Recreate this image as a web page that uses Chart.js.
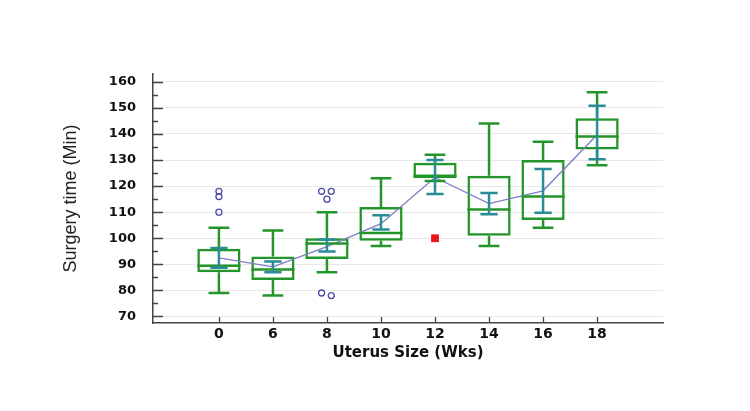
<!DOCTYPE html>
<html>
<head>
<meta charset="utf-8">
<script src="https://cdn.jsdelivr.net/npm/chart.js@4"></script>
<style>
  body { margin: 0; background: #fff; }
</style>
</head>
<body>
<canvas id="chart" width="750" height="411"></canvas>
<script>
// Uterus size groups (weeks)
const sizes = ['0', '6', '8', '10', '12', '14', '16', '18']

// Box plot parts, surgery time in minutes
const whiskerLow = [79, 78, 87, 97, 122, 97, 104, 128]
const q1 = [87, 84, 92, 99, 123, 101, 107, 134]
const median = [89.5, 88, 98, 102, 124, 111, 116, 139]
const q3 = [96, 93, 100, 112, 129, 124, 130, 146]
const whiskerHigh = [104, 103, 110, 123, 132, 144, 137, 156]

// Mean with 95% CI
const mean = [92.5, 89, 96.8, 105.6, 123.3, 113.3, 118.2, 139.7]
const ciLow = [88.7, 87, 94.9, 103.4, 117, 109.2, 109.8, 130.3]
const ciHigh = [96.3, 91.1, 99.5, 108.8, 130, 117.4, 126.6, 150.8]

// Outliers as [group index, value]
const outliers = [[0, 118], [0, 116], [0, 110], [2, 118], [2, 118], [2, 115], [2, 79], [2, 78]]
const farOutliers = [[4, 100]]

const yTicks = [70, 80, 90, 100, 110, 120, 130, 140, 150, 160]

const green = '#23952a'
const teal = '#2a8c98'

// spread outliers that sit on top of each other in the same group
function jitter(list) {
    return list.map(([g, v], k) => {
        const twin = list.findIndex(([g2, v2], j) => j !== k && g2 === g && Math.abs(v2 - v) <= 1)
        if (twin < 0) return { x: g, y: v }
        return { x: g + (k < twin ? -0.1 : 0.08), y: v }
    })
}

const boxParts = {
    id: 'boxParts',
    afterDatasetsDraw(chart) {
        const { ctx, scales: { x, y } } = chart
        const bars = chart.getDatasetMeta(0).data
        ctx.save()
        ctx.lineCap = 'butt'
        sizes.forEach((s, i) => {
            const cx = x.getPixelForValue(i)
            const bw = bars[i].width
            // whiskers
            ctx.strokeStyle = green
            ctx.lineWidth = 2.5
            ctx.beginPath()
            ctx.moveTo(cx, y.getPixelForValue(q3[i]))
            ctx.lineTo(cx, y.getPixelForValue(whiskerHigh[i]))
            ctx.moveTo(cx, y.getPixelForValue(q1[i]))
            ctx.lineTo(cx, y.getPixelForValue(whiskerLow[i]))
            const capW = bw * 0.24
            for (const v of [whiskerHigh[i], whiskerLow[i]]) {
                ctx.moveTo(cx - capW, y.getPixelForValue(v))
                ctx.lineTo(cx + capW, y.getPixelForValue(v))
            }
            // median
            ctx.moveTo(cx - bw / 2, y.getPixelForValue(median[i]))
            ctx.lineTo(cx + bw / 2, y.getPixelForValue(median[i]))
            ctx.stroke()

            // mean CI
            ctx.strokeStyle = teal
            ctx.lineWidth = 2.5
            ctx.beginPath()
            ctx.moveTo(cx, y.getPixelForValue(ciHigh[i]))
            ctx.lineTo(cx, y.getPixelForValue(ciLow[i]))
            const ciW = bw * 0.2
            for (const v of [ciHigh[i], ciLow[i]]) {
                ctx.moveTo(cx - ciW, y.getPixelForValue(v))
                ctx.lineTo(cx + ciW, y.getPixelForValue(v))
            }
            ctx.stroke()
        })
        ctx.restore()
    },
    afterDraw(chart) {
        // tick marks pointing into the plot
        const { ctx, scales: { x, y }, chartArea } = chart
        ctx.save()
        ctx.strokeStyle = '#444'
        ctx.lineWidth = 1.3
        ctx.beginPath()
        for (let v = 70; v <= 160; v += 5) {
            const py = Math.round(y.getPixelForValue(v)) + 0.5
            ctx.moveTo(chartArea.left, py)
            ctx.lineTo(chartArea.left + (v % 10 === 0 ? 10 : 5), py)
        }
        sizes.forEach((s, i) => {
            const px = Math.round(x.getPixelForValue(i)) + 0.5
            ctx.moveTo(px, chartArea.bottom)
            ctx.lineTo(px, chartArea.bottom - 6)
        })
        ctx.stroke()
        ctx.restore()
    }
}

const ctx = document.getElementById('chart')
new Chart(ctx, {
    type: 'bar',
    data: {
        datasets: [
            {
                type: 'bar',
                data: sizes.map((s, i) => ({ x: i, y: [q1[i], q3[i]] })),
                backgroundColor: 'rgba(255,255,255,0)',
                borderColor: green,
                borderWidth: 2.5,
                borderSkipped: false,
                barPercentage: 0.8,
                categoryPercentage: 1,
                order: 3
            },
            {
                type: 'line',
                data: sizes.map((s, i) => ({ x: i, y: mean[i] })),
                borderColor: '#7f7dc4',
                borderWidth: 1.3,
                pointRadius: 0,
                tension: 0,
                order: 2
            },
            {
                type: 'line',
                data: jitter(outliers),
                showLine: false,
                pointStyle: 'circle',
                pointRadius: 3,
                pointBorderWidth: 1.3,
                pointBorderColor: '#4b4aa6',
                pointBackgroundColor: 'rgba(255,255,255,0)',
                order: 1
            },
            {
                type: 'line',
                data: farOutliers.map(([g, v]) => ({ x: g, y: v })),
                showLine: false,
                pointStyle: 'rect',
                pointRadius: 5.5,
                pointBorderWidth: 0,
                pointBackgroundColor: '#e8141b',
                order: 1
            }
        ]
    },
    options: {
        responsive: false,
        devicePixelRatio: 1,
        animation: false,
        layout: { padding: { left: 54, top: 74, right: 87, bottom: 45 } },
        plugins: {
            legend: { display: false },
            tooltip: { enabled: false }
        },
        scales: {
            x: {
                type: 'linear',
                offset: false,
                min: -1.22,
                max: 8.22,
                afterBuildTicks: s => { s.ticks = sizes.map((c, i) => ({ value: i })) },
                ticks: {
                    callback: v => sizes[v],
                    padding: 4,
                    color: '#111',
                    font: { family: 'DejaVu Sans', weight: 'bold', size: 14, lineHeight: 1 }
                },
                grid: { drawOnChartArea: false, drawTicks: false },
                border: { color: '#444', width: 1.5 },
                title: {
                    display: true,
                    text: 'Uterus Size (Wks)',
                    color: '#111',
                    padding: { top: -1, bottom: 4 },
                    font: { family: 'DejaVu Sans', weight: 'bold', size: 15 }
                }
            },
            y: {
                min: 67.5,
                max: 163,
                afterBuildTicks: s => { s.ticks = yTicks.map(v => ({ value: v })) },
                afterFit: s => { s.width = 99 },
                ticks: {
                    padding: 17,
                    color: '#111',
                    font: { family: 'DejaVu Sans', weight: 'bold', size: 13 }
                },
                grid: { color: '#e8e8e8', lineWidth: 1, drawTicks: false },
                border: { color: '#444', width: 1.5 },
                title: {
                    display: true,
                    text: 'Surgery time (Min)',
                    color: '#222',
                    padding: { top: 6, bottom: 4 },
                    font: { family: 'Liberation Sans', size: 18 }
                }
            }
        }
    },
    plugins: [boxParts]
})
</script>
</body>
</html>
